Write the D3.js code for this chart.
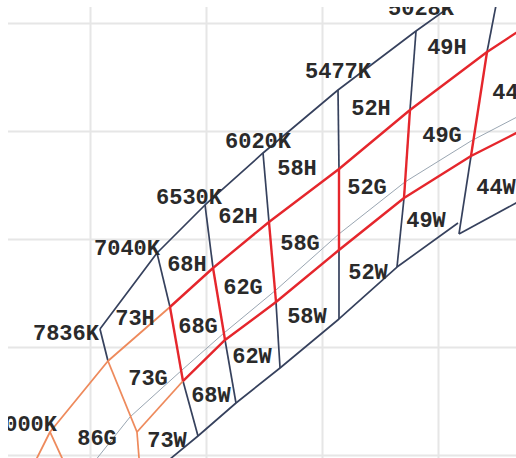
<!DOCTYPE html>
<html><head><meta charset="utf-8">
<script src="https://cdn.jsdelivr.net/npm/d3@7"></script>
<style>html,body{margin:0;padding:0;background:#fff;overflow:hidden}</style>
</head><body>
<script>
// CIE x,y of quadrangle corners, one entry per isotherm (index 0 / 9 = line extensions)
const cctLabels = ["", "9000K", "7836K", "7040K", "6530K", "6020K", "5477K", "5028K", "4503K", ""];
const topX    = [null, null, 0.30172, 0.31155, 0.31983, 0.32983, 0.34276, 0.35621, 0.37121, null];
const topY    = [null, null, 0.32333, 0.33741, 0.34630, 0.35593, 0.36759, 0.37852, 0.39000, null];
const upperX  = [0.28862, 0.29310, 0.30310, 0.31379, 0.32121, 0.33086, 0.34293, 0.35517, 0.36845, 0.37759];
const upperY  = [0.29463, 0.30426, 0.31741, 0.32741, 0.33463, 0.34315, 0.35296, 0.36389, 0.37463, 0.38111];
const centerX = [null, 0.29741, 0.30690, 0.31586, 0.32310, 0.33207, 0.34293, 0.35431, 0.36569, 0.37759];
const centerY = [null, 0.29426, 0.30704, 0.31574, 0.32259, 0.33056, 0.34093, 0.35056, 0.35815, 0.36481];
const lowerX  = [null, null, 0.30810, 0.31603, 0.32328, 0.33207, 0.34293, 0.35414, 0.36569, 0.37759];
const lowerY  = [null, null, 0.30426, 0.31370, 0.32130, 0.32833, 0.33796, 0.34759, 0.35537, 0.36185];
const bottomX = [null, 0.30172, 0.30879, 0.31862, 0.32517, 0.33276, 0.34293, 0.35293, 0.36362, 0.37759];
const bottomY = [null, 0.28426, 0.29481, 0.30352, 0.30963, 0.31611, 0.32519, 0.33481, 0.34093, 0.34907];
const joinXY  = [0.36345, 0.34296];   // where the 49W bottom meets the 4503K isotherm
const cctLabelX = [null, 0.28862, 0.29586, 0.30638, 0.31707, 0.32897, 0.34276, 0.35707, null, null];
const cctLabelY = [null, 0.30574, 0.32259, 0.33833, 0.34778, 0.35815, 0.37111, 0.38296, null, null];

const binNames = ["86G","73H","73G","73W","68H","68G","68W","62H","62G","62W","58H","58G","58W",
                  "52H","52G","52W","49H","49G","49W","44H","44W"];
const binX = [0.30121,0.30776,0.31000,0.31328,0.31672,0.31862,0.32086,0.32552,0.32638,0.32793,
              0.33569,0.33621,0.33741,0.34845,0.34776,0.34793,0.36155,0.36069,0.35793,0.37276,0.37000];
const binY = [0.30315,0.32537,0.31426,0.30278,0.33537,0.32407,0.31111,0.34444,0.33111,0.31833,
              0.35315,0.33926,0.32574,0.36444,0.34981,0.33407,0.37556,0.35926,0.34352,0.36722,0.34963];
const gridX = [0.30, 0.32, 0.34, 0.36, 0.38];
const gridY = [0.30, 0.32, 0.34, 0.36, 0.38];

const W = 516, H = 458;
const NAVY = "#36415d", RED = "#e5262c", ORANGE = "#ee8a5c", GRAY = "#9aa6b2", GRID = "#e6e6e6";
const sx = d3.scaleLinear().domain([0.30, 0.36]).range([90, 438]);
const sy = d3.scaleLinear().domain([0.30, 0.38]).range([455, 23]);

const svg = d3.select("body").append("svg").attr("width", W).attr("height", H);
svg.append("defs").append("clipPath").attr("id", "clip")
  .append("rect").attr("x", 8).attr("y", 7).attr("width", W - 8).attr("height", H - 7);
const g = svg.append("g").attr("clip-path", "url(#clip)");

// grid via axes
g.append("g").attr("transform", `translate(0,${H})`)
  .call(d3.axisBottom(sx).tickValues(gridX).tickSize(-H).tickFormat(""))
  .call(a => { a.select(".domain").remove(); a.selectAll("line").attr("stroke", GRID).attr("stroke-width", 2); });
g.append("g")
  .call(d3.axisLeft(sy).tickValues(gridY).tickSize(-W).tickFormat(""))
  .call(a => { a.select(".domain").remove(); a.selectAll("line").attr("stroke", GRID).attr("stroke-width", 2); });

const line = d3.line().x(d => sx(d[0])).y(d => sy(d[1]));
function pts(X, Y, from, to) {
  const out = [];
  for (let i = from; i <= to; i++) if (X[i] != null) out.push([X[i], Y[i]]);
  return out;
}
function draw(p, color, w) {
  g.append("path").attr("d", line(p)).attr("fill", "none")
    .attr("stroke", color).attr("stroke-width", w).attr("stroke-linejoin", "round");
}

// center line
draw(pts(centerX, centerY, 1, 9), GRAY, 1);
// top and bottom boundaries
draw(pts(topX, topY, 2, 8), NAVY, 1.7);
draw(pts(bottomX, bottomY, 1, 7).concat([joinXY]), NAVY, 1.7);
draw(pts(bottomX, bottomY, 8, 9), NAVY, 1.7);
// isotherms (outer parts)
for (let i = 1; i <= 8; i++) {
  if (topX[i] != null) draw([[topX[i], topY[i]], [upperX[i], upperY[i]]], NAVY, 1.7);
  if (lowerX[i] != null) draw([[lowerX[i], lowerY[i]], [bottomX[i], bottomY[i]]], i <= 2 ? ORANGE : NAVY, 1.7);
}
// orange boundaries
draw(pts(upperX, upperY, 0, 3), ORANGE, 1.8);
draw(pts(lowerX, lowerY, 2, 3), ORANGE, 1.8);
for (let i = 1; i <= 2; i++) {
  const e = lowerX[i] != null ? [lowerX[i], lowerY[i]] : [bottomX[i], bottomY[i]];
  draw([[upperX[i], upperY[i]], e], ORANGE, 1.8);
}
// red boundaries
draw(pts(upperX, upperY, 3, 9), RED, 2.4);
draw(pts(lowerX, lowerY, 3, 9), RED, 2.4);
for (let i = 3; i <= 8; i++) draw([[upperX[i], upperY[i]], [lowerX[i], lowerY[i]]], RED, 2.4);

// labels
const font = "'Liberation Mono', 'DejaVu Sans Mono', monospace";
function label(txt, x, y) {
  g.append("text").attr("x", sx(x)).attr("y", sy(y)).attr("dy", "0.34em")
    .attr("text-anchor", "middle").attr("font-family", font).attr("font-weight", "bold")
    .attr("font-size", 22).attr("fill", "#2a2a2a").text(txt);
}
cctLabels.forEach((t, i) => { if (cctLabelX[i] != null) label(t, cctLabelX[i], cctLabelY[i]); });
binNames.forEach((t, i) => label(t, binX[i], binY[i]));
</script>
</body></html>
